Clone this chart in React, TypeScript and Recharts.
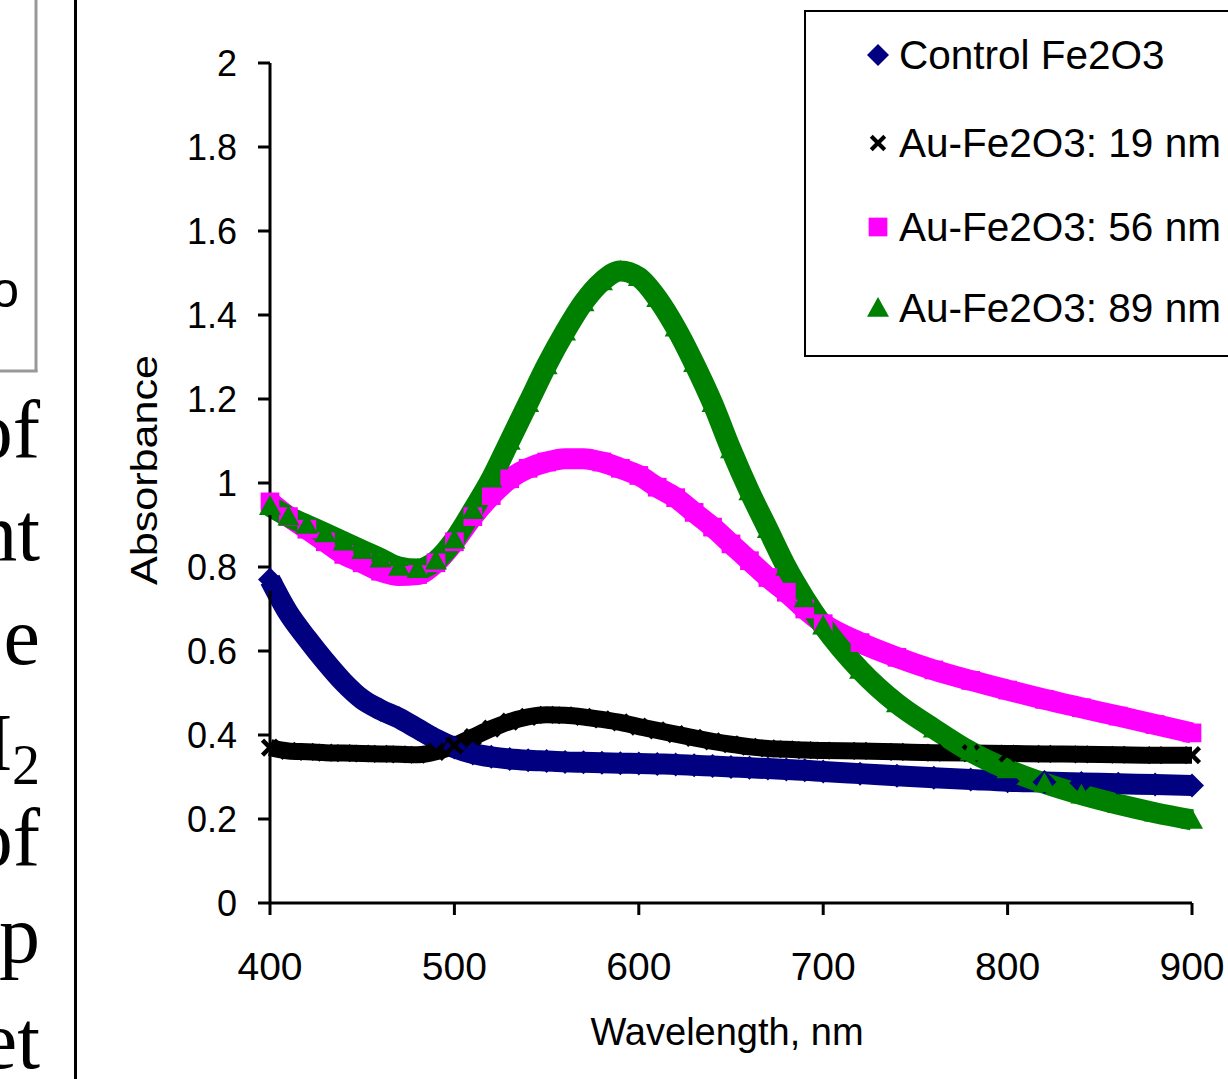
import React from "react";
import { LineChart, Line, XAxis, YAxis, Label } from "recharts";

const wavelengths = [
  400, 410, 420, 430, 440, 450, 460, 470, 480, 490, 500, 510, 520, 530, 540, 550,
  560, 570, 580, 590, 600, 610, 620, 630, 640, 650, 660, 670, 680, 690, 700,
  720, 740, 760, 780, 800, 820, 840, 860, 880, 900,
];

const controlFe2O3 = [
  0.77, 0.69, 0.63, 0.575, 0.525, 0.485, 0.46, 0.44, 0.415, 0.39, 0.37, 0.356, 0.348, 0.343, 0.34, 0.338,
  0.336, 0.335, 0.334, 0.333, 0.332, 0.331, 0.33, 0.328, 0.326, 0.324, 0.322, 0.32, 0.318, 0.316, 0.313,
  0.308, 0.303, 0.298, 0.294, 0.29, 0.288, 0.286, 0.284, 0.282, 0.28,
];

const auFe2O3_19 = [
  0.37, 0.362, 0.36, 0.358, 0.357, 0.356, 0.355, 0.354, 0.353, 0.36, 0.375, 0.395, 0.415, 0.432, 0.443, 0.448,
  0.447, 0.443, 0.437, 0.43, 0.42, 0.411, 0.402, 0.393, 0.385, 0.378, 0.372, 0.368, 0.366, 0.364, 0.363,
  0.362, 0.36, 0.358, 0.357, 0.356, 0.355, 0.354, 0.353, 0.352, 0.352,
];

const auFe2O3_56 = [
  0.955, 0.92, 0.89, 0.86, 0.83, 0.81, 0.79, 0.78, 0.782, 0.81, 0.86, 0.92, 0.97, 1.01, 1.035, 1.05,
  1.058, 1.058, 1.05, 1.035, 1.018, 0.99, 0.965, 0.93, 0.895, 0.855, 0.815, 0.775, 0.74, 0.7, 0.665,
  0.62, 0.585, 0.555, 0.53, 0.507, 0.485, 0.465, 0.445, 0.425, 0.405,
];

const auFe2O3_89 = [
  0.945, 0.92, 0.9, 0.88, 0.86, 0.84, 0.82, 0.8, 0.795, 0.815, 0.865, 0.935, 1.01, 1.1, 1.19, 1.28,
  1.36, 1.43, 1.48, 1.505, 1.49, 1.44, 1.37, 1.285, 1.19, 1.08, 0.98, 0.89, 0.8, 0.725, 0.66,
  0.555, 0.475, 0.415, 0.36, 0.318, 0.285, 0.258, 0.235, 0.215, 0.198,
];

const seriesNames = ["Control Fe2O3", "Au-Fe2O3: 19 nm", "Au-Fe2O3: 56 nm", "Au-Fe2O3: 89 nm"];
const seriesKeys = ["control", "s19", "s56", "s89"];
const seriesColors = ["#000080", "#000000", "#FF00FF", "#008000"];
const seriesShapes = ["diamond", "cross", "square", "triangle"];

const xTicks = [400, 500, 600, 700, 800, 900];
const yTicks = [0, 0.2, 0.4, 0.6, 0.8, 1, 1.2, 1.4, 1.6, 1.8, 2];

const sideWords = ["of", "nt", "e", "H", "of", "p", "et"];

const data = wavelengths.map((wl, i) => ({
  wl,
  control: controlFe2O3[i],
  s19: auFe2O3_19[i],
  s56: auFe2O3_56[i],
  s89: auFe2O3_89[i],
}));

const FONT = "'Liberation Sans', Arial, sans-serif";
const SERIF = "'Liberation Serif', 'Times New Roman', serif";

function Marker({ shape, cx, cy, color, r }: any) {
  if (cx == null || cy == null) return null;
  if (shape === "diamond") {
    return (
      <polygon
        points={`${cx},${cy - r} ${cx + r},${cy} ${cx},${cy + r} ${cx - r},${cy}`}
        fill={color}
      />
    );
  }
  if (shape === "square") {
    const s = r * 0.85;
    return <rect x={cx - s} y={cy - s} width={s * 2} height={s * 2} fill={color} />;
  }
  if (shape === "triangle") {
    return (
      <polygon
        points={`${cx},${cy - r} ${cx + r},${cy + r * 0.8} ${cx - r},${cy + r * 0.8}`}
        fill={color}
      />
    );
  }
  const s = r * 0.75;
  return (
    <g stroke={color} strokeWidth={r * 0.45}>
      <line x1={cx - s} y1={cy - s} x2={cx + s} y2={cy + s} />
      <line x1={cx - s} y1={cy + s} x2={cx + s} y2={cy - s} />
    </g>
  );
}

const YTick = (props: any) => {
  const { x, y, payload } = props;
  return (
    <text x={x} y={y} dy="0.36em" textAnchor="end" fontFamily={FONT} fontSize={36} fill="#000">
      {String(payload.value)}
    </text>
  );
};

const XTick = (props: any) => {
  const { x, y, payload } = props;
  return (
    <text x={x} y={y} textAnchor="middle" fontFamily={FONT} fontSize={39} fill="#000">
      {String(payload.value)}
    </text>
  );
};

const XTitle = (props: any) => {
  const vb = props.viewBox || {};
  return (
    <text
      x={vb.x + vb.width / 2 - 4}
      y={vb.y + 142}
      textAnchor="middle"
      fontFamily={FONT}
      fontSize={38}
      fill="#000"
    >
      Wavelength, nm
    </text>
  );
};

const YTitle = (props: any) => {
  const vb = props.viewBox || {};
  const cx = 157;
  const cy = vb.y + vb.height / 2 - 13;
  return (
    <text
      x={cx}
      y={cy}
      transform={`rotate(-90 ${cx} ${cy})`}
      textAnchor="middle"
      fontFamily={FONT}
      fontSize={37}
      textLength={230}
      lengthAdjust="spacingAndGlyphs"
      fill="#000"
    >
      Absorbance
    </text>
  );
};

function LegendBox() {
  const rowCenters = [55, 143, 227, 308];
  return (
    <div
      style={{
        position: "absolute",
        left: 804,
        top: 10,
        width: 460,
        height: 347,
        border: "2.5px solid #000",
        boxSizing: "border-box",
        background: "#fff",
      }}
    >
      {seriesNames.map((name, i) => (
        <div
          key={name}
          style={{
            position: "absolute",
            left: 0,
            top: rowCenters[i] - 12.5 - 25,
            height: 50,
            width: 460,
          }}
        >
          <svg width={30} height={30} style={{ position: "absolute", left: 57, top: 10 }}>
            <Marker shape={seriesShapes[i]} cx={15} cy={15} color={seriesColors[i]} r={i === 1 ? 9 : 11} />
          </svg>
          <span
            style={{
              position: "absolute",
              left: 93,
              top: 0,
              fontFamily: FONT,
              fontSize: 40.5,
              color: "#000",
              whiteSpace: "nowrap",
              lineHeight: "50px",
            }}
          >
            {name}
          </span>
        </div>
      ))}
    </div>
  );
}

function SideDecor() {
  const baselines = [458, 560, 664, 770, 866, 962, 1068];
  return (
    <svg width={90} height={1079} style={{ position: "absolute", left: 0, top: 0 }}>
      <line x1={36} y1={0} x2={36} y2={372} stroke="#999" strokeWidth={3} />
      <line x1={0} y1={371} x2={37.5} y2={371} stroke="#999" strokeWidth={3} />
      <text x={19} y={307} textAnchor="end" fontFamily={FONT} fontSize={50} fill="#000">
        o
      </text>
      <line x1={75.5} y1={0} x2={75.5} y2={1079} stroke="#000" strokeWidth={3} />
      {sideWords.map((w, i) =>
        w === "H" ? (
          <text key={i} x={40} y={baselines[i]} textAnchor="end" fontFamily={SERIF} fontSize={82} fill="#000">
            H
            <tspan fontSize={56} dy={14}>
              2
            </tspan>
          </text>
        ) : (
          <text key={i} x={40} y={baselines[i]} textAnchor="end" fontFamily={SERIF} fontSize={82} fill="#000">
            {w}
          </text>
        )
      )}
    </svg>
  );
}

export default function App() {
  return (
    <div
      style={{
        position: "absolute",
        left: 0,
        top: 0,
        width: 1228,
        height: 1079,
        overflow: "hidden",
        background: "#fff",
      }}
    >
      <LineChart
        width={1228}
        height={1079}
        data={data}
        margin={{ top: 63, right: 36, left: 0, bottom: 0 }}
      >
        <XAxis
          dataKey="wl"
          type="number"
          domain={[400, 900]}
          ticks={xTicks}
          height={176}
          axisLine={{ stroke: "#000", strokeWidth: 3 }}
          tickLine={{ stroke: "#000", strokeWidth: 3 }}
          tickSize={12}
          tickMargin={65}
          tick={<XTick />}
          interval={0}
        >
          <Label content={<XTitle />} />
        </XAxis>
        <YAxis
          type="number"
          domain={[0, 2]}
          ticks={yTicks}
          width={270}
          axisLine={{ stroke: "#000", strokeWidth: 3 }}
          tickLine={{ stroke: "#000", strokeWidth: 3 }}
          tickSize={12}
          tickMargin={21}
          tick={<YTick />}
          interval={0}
        >
          <Label content={<YTitle />} />
        </YAxis>
        {seriesKeys.map((k, i) => (
          <Line
            key={k}
            dataKey={k}
            name={seriesNames[i]}
            type="monotone"
            stroke={seriesColors[i]}
            strokeWidth={i === 1 ? 17 : 21}
            strokeLinejoin="round"
            isAnimationActive={false}
            dot={(p: any) => (
              <Marker
                key={`${k}-${p.index}`}
                shape={seriesShapes[i]}
                cx={p.cx}
                cy={p.cy}
                color={seriesColors[i]}
                r={i === 1 ? 10 : i === 0 ? 12 : 11}
              />
            )}
            activeDot={false}
          />
        ))}
      </LineChart>
      <SideDecor />
      <LegendBox />
    </div>
  );
}
